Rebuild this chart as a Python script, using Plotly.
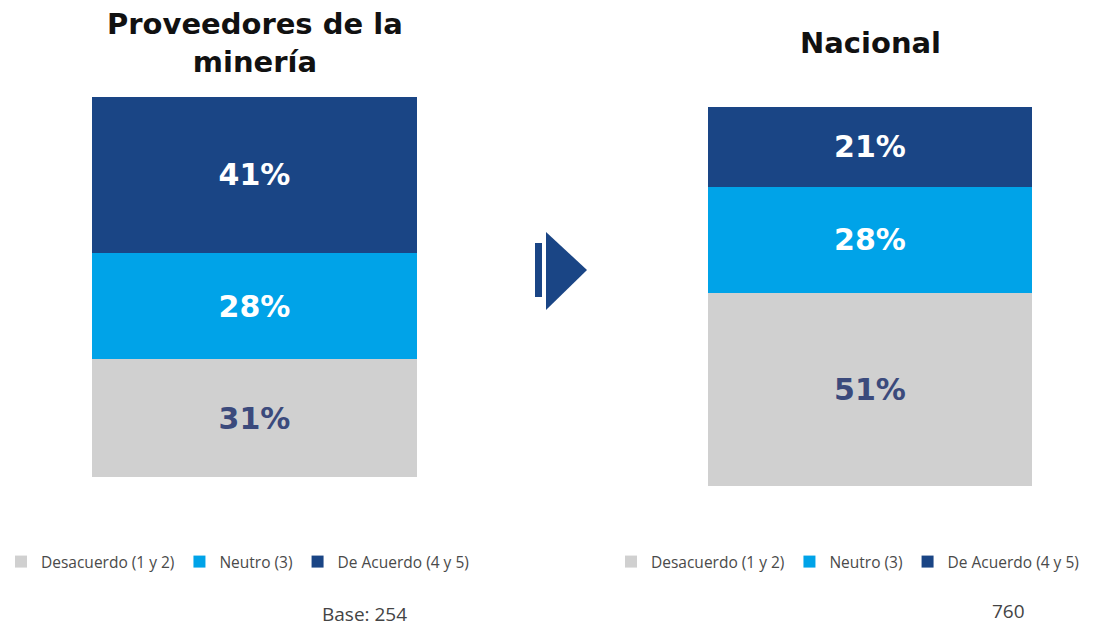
import plotly.graph_objects as go

categories = ["Desacuerdo (1 y 2)", "Neutro (3)", "De Acuerdo (4 y 5)"]
prov_values = [31, 28, 41]
nac_values = [51, 28, 21]
colors = ["#D0D0D0", "#00A3E8", "#1A4585"]
text_colors = ["#3B4A7C", "#FFFFFF", "#FFFFFF"]
panel_titles = ["Proveedores de la<br>minería", "Nacional"]
bases = ["Base: 254", "760"]

W, H = 1110, 627
OFF = 8  # page body margin


def px(x):
    return (x - OFF) / W


def py(y):
    return 1 - (y - OFF) / H


LABEL_FONT = "DejaVu Sans"
fig = go.Figure()

for i, (cat, v) in enumerate(zip(categories, prov_values)):
    fig.add_trace(go.Bar(
        x=[0], y=[v], name=cat, marker_color=colors[i], marker_line_width=0,
        text=[f"{v}%"], textposition="inside", insidetextanchor="middle",
        textfont=dict(color=text_colors[i], size=30, family=LABEL_FONT, weight=700),
        width=1, xaxis="x", yaxis="y", legend="legend", hoverinfo="skip",
    ))
for i, (cat, v) in enumerate(zip(categories, nac_values)):
    fig.add_trace(go.Bar(
        x=[0], y=[v], name=cat, marker_color=colors[i], marker_line_width=0,
        text=[f"{v}%"], textposition="inside", insidetextanchor="middle",
        textfont=dict(color=text_colors[i], size=30, family=LABEL_FONT, weight=700),
        width=1, xaxis="x2", yaxis="y2", legend="legend2", hoverinfo="skip",
    ))

axis_common = dict(showgrid=False, zeroline=False, showticklabels=False, showline=False, fixedrange=True)
legend_font = dict(family="Open Sans", size=15.5, color="#4A4A4A")

fig.update_layout(
    width=W, height=H,
    margin=dict(l=0, r=0, t=0, b=0, autoexpand=False),
    paper_bgcolor="white", plot_bgcolor="white",
    barmode="stack",
    xaxis=dict(domain=[px(92), px(417)], range=[-0.5, 0.5], anchor="y", **axis_common),
    yaxis=dict(domain=[py(477), py(97)], range=[0, 100], anchor="x", **axis_common),
    xaxis2=dict(domain=[px(708), px(1032)], range=[-0.5, 0.5], anchor="y2", **axis_common),
    yaxis2=dict(domain=[py(486), py(107)], range=[0, 100], anchor="x2", **axis_common),
    legend=dict(
        orientation="h", x=-7 / W, y=py(562), xanchor="left", yanchor="middle",
        font=legend_font, traceorder="normal", itemwidth=30,
        bgcolor="rgba(0,0,0,0)",
    ),
    legend2=dict(
        orientation="h", x=603 / W, y=py(562), xanchor="left", yanchor="middle",
        font=legend_font, traceorder="normal", itemwidth=30,
        bgcolor="rgba(0,0,0,0)",
    ),
    showlegend=True,
)

# Titles
fig.add_annotation(x=px(255), y=py(43), xref="paper", yref="paper",
                   text=f"<b>{panel_titles[0]}</b>", showarrow=False,
                   font=dict(family=LABEL_FONT, size=29, color="#111111"),
                   xanchor="center", yanchor="middle", align="center")
fig.add_annotation(x=px(870), y=py(43), xref="paper", yref="paper",
                   text=f"<b>{panel_titles[1]}</b>", showarrow=False,
                   font=dict(family=LABEL_FONT, size=29, color="#111111"),
                   xanchor="center", yanchor="middle", align="center")

# Base labels
fig.add_annotation(x=px(364), y=py(614), xref="paper", yref="paper",
                   text=bases[0], showarrow=False,
                   font=dict(family="Open Sans", size=19, color="#444444"),
                   xanchor="center", yanchor="middle")
fig.add_annotation(x=px(1008), y=py(611), xref="paper", yref="paper",
                   text=bases[1], showarrow=False,
                   font=dict(family="Open Sans", size=19, color="#444444"),
                   xanchor="center", yanchor="middle")

# Arrow decoration
fig.add_shape(type="rect", xref="paper", yref="paper",
              x0=px(535), x1=px(542), y0=py(297), y1=py(243),
              fillcolor="#1A4585", line_width=0)
fig.add_shape(type="path", xref="paper", yref="paper",
              path=f"M {px(546)} {py(232)} L {px(587)} {py(270)} L {px(546)} {py(310)} Z",
              fillcolor="#1A4585", line_width=0)

fig.write_html("out.html")
